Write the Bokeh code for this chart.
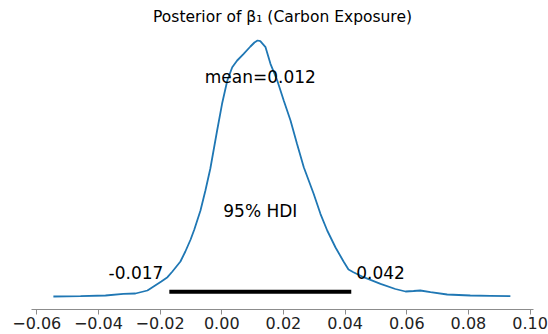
from bokeh.plotting import figure
from bokeh.models import Range1d, FixedTicker, CustomJSTickFormatter
from bokeh.core.properties import value
from bokeh.embed import file_html
from bokeh.resources import INLINE

# ---- data ----
beta_grid = [-0.0546, -0.0458, -0.0377, -0.0319, -0.0280, -0.0241, -0.0221, -0.0196,
             -0.0176, -0.0160, -0.0134, -0.0118, -0.0101, -0.0089, -0.0069, -0.0053,
             -0.0037, -0.0015, 0.0001, 0.0018, 0.0034, 0.0050, 0.0071, 0.0093,
             0.0106, 0.0116, 0.0125, 0.0142, 0.0158, 0.0180, 0.0201, 0.0223,
             0.0244, 0.0266, 0.0298, 0.0320, 0.0342, 0.0369, 0.0395, 0.0411,
             0.0427, 0.0460, 0.0515, 0.0563, 0.0596, 0.0622, 0.0644, 0.0677,
             0.0731, 0.0806, 0.0871, 0.0936]
density = [0.05, 0.09, 0.15, 0.32, 0.35, 0.65, 1.05, 1.55,
           1.98, 2.55, 3.55, 4.55, 5.75, 6.75, 8.65, 10.65,
           12.85, 16.65, 19.32, 21.65, 22.98, 23.65, 24.32, 25.05,
           25.45, 25.65, 25.58, 24.98, 23.32, 21.65, 19.65, 17.65,
           15.32, 12.98, 10.32, 8.32, 6.65, 4.95, 3.55, 2.75,
           2.48, 1.98, 1.32, 0.80, 0.55, 0.60, 0.65, 0.48,
           0.25, 0.15, 0.12, 0.09]
posterior_mean = 0.0125
mean_label = "mean=0.012"
hdi_low = -0.017
hdi_high = 0.042
hdi_labels = ["-0.017", "0.042"]
hdi_text = "95% HDI"
x_ticks = [-0.06, -0.04, -0.02, 0.00, 0.02, 0.04, 0.06, 0.08, 0.10]
title_text = "Posterior of \u03b2\u2081 (Carbon Exposure)"

# axis limits
x_lo, x_hi = -0.0617, 0.1011
y_lo, y_hi = -1.25, 26.65
plot_height = 26.8      # top of the density axis used for annotation placement
text_mid_shift = 0.6    # from text baseline to text middle, in density units

FONT = value("DejaVu Sans")

p = figure(frame_width=502, frame_height=279, output_backend="svg", toolbar_location=None,
           x_range=Range1d(x_lo, x_hi), y_range=Range1d(y_lo, y_hi),
           y_axis_location=None,
           min_border_left=31, min_border_right=15, min_border_top=30, min_border_bottom=0,
           title=title_text)
p.outline_line_color = None
p.grid.visible = False
p.background_fill_color = "white"
p.border_fill_color = "white"

p.title.text_font = "DejaVu Sans"
p.title.text_font_size = "15.5px"
p.title.text_font_style = "normal"
p.title.text_color = "#000000"
p.title.align = "center"
p.title.standoff = 9

ax = p.xaxis[0]
ax.ticker = FixedTicker(ticks=x_ticks)
ax.minor_tick_line_color = None
ax.axis_line_color = "#8c8c8c"
ax.major_tick_line_color = "#8c8c8c"
ax.major_tick_in = 0
ax.major_tick_out = 5
ax.major_label_standoff = 2
ax.major_label_text_font = "DejaVu Sans"
ax.major_label_text_font_size = "16px"
ax.major_label_text_color = "#222222"
ax.formatter = CustomJSTickFormatter(code="""
    var s = Math.abs(tick).toFixed(2);
    return (tick < -1e-9 ? "\u2212" : "") + s;
""")

# KDE curve
p.line(beta_grid, density, line_color="#1f77b4", line_width=1.8)

# HDI bar
p.line([hdi_low, hdi_high], [plot_height * 0.02, plot_height * 0.02],
       line_color="black", line_width=4)

common = dict(text_baseline="middle", text_font=FONT, text_font_size=value("17px"),
              text_color="black")
# HDI bound labels
p.text(x=[hdi_low], y=[plot_height * 0.07 + text_mid_shift], text=[hdi_labels[0]],
       text_align="right", x_offset=-6, **common)
p.text(x=[hdi_high], y=[plot_height * 0.07 + text_mid_shift], text=[hdi_labels[1]],
       text_align="left", x_offset=5, **common)
# HDI label
p.text(x=[(hdi_low + hdi_high) / 2], y=[plot_height * 0.3 + text_mid_shift], text=[hdi_text],
       text_align="center", **common)
# mean label
p.text(x=[posterior_mean], y=[plot_height * 0.8 + text_mid_shift], text=[mean_label],
       text_align="center", **common)

open("out.html", "w").write(file_html(p, INLINE))
